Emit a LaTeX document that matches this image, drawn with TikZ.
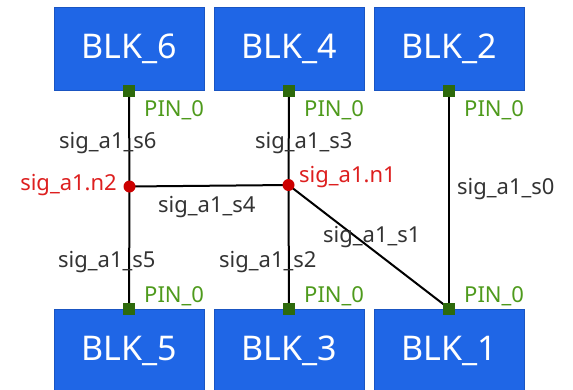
\documentclass[tikz,border=0pt]{standalone}
\usepackage{fontspec}
\setmainfont{Noto Sans}
\begin{document}
\begin{tikzpicture}[x=1pt,y=-1pt,
  blk/.style={draw=blkedge,line width=1pt,fill=blkfill,minimum width=150pt,minimum height=83pt,
    inner sep=0pt,font=\fontsize{34}{37}\selectfont,text=white},
  pin/.style={fill=pingreen,minimum size=12pt,inner sep=0pt},
  junc/.style={circle,fill=juncred,minimum size=12pt,inner sep=0pt},
  wire/.style={line width=2pt,black},
  pinlbl/.style={anchor=west,inner sep=0pt,text=pintext,font=\fontsize{22}{24}\selectfont},
  siglbl/.style={anchor=west,inner sep=0pt,text=sigtext,font=\fontsize{22}{24}\selectfont},
  netlbl/.style={inner sep=0pt,text=nettext,font=\fontsize{22}{24}\selectfont}]
\definecolor{blkfill}{HTML}{1F66E6}
\definecolor{blkedge}{HTML}{1A55C2}
\definecolor{pingreen}{HTML}{2D6A0C}
\definecolor{pintext}{HTML}{4E9A1C}
\definecolor{juncred}{HTML}{CC0000}
\definecolor{nettext}{HTML}{DD1F1F}
\definecolor{sigtext}{HTML}{333333}
\useasboundingbox (0,0) rectangle (573,389);
\clip (0,0) rectangle (573,389);

% blocks
\node[blk] (b6) at (129,48.5) {BLK\_6};
\node[blk] (b4) at (289,48.5) {BLK\_4};
\node[blk] (b2) at (449,48.5) {BLK\_2};
\node[blk] (b5) at (129,350.5) {BLK\_5};
\node[blk] (b3) at (289,350.5) {BLK\_3};
\node[blk] (b1) at (449,350.5) {BLK\_1};

% junctions
\coordinate (n2) at (129.5,186.5);
\coordinate (n1) at (288.5,185);

% pins
\node[pin] (p6) at (b6.south) {};
\node[pin] (p4) at (b4.south) {};
\node[pin] (p2) at (b2.south) {};
\node[pin] (p5) at (b5.north) {};
\node[pin] (p3) at (b3.north) {};
\node[pin] (p1) at (b1.north) {};

% wires
\draw[wire] (p6.center) -- (n2) -- (p5.center);
\draw[wire] (p4.center) -- (n1) -- (p3.center);
\draw[wire] (n2) -- (n1);
\draw[wire] (n1) -- (p1.center);
\draw[wire] (p2.center) -- (p1.center);

\node[pin] at (p6) {};
\node[pin] at (p4) {};
\node[pin] at (p2) {};
\node[pin] at (p5) {};
\node[pin] at (p3) {};
\node[pin] at (p1) {};
\node[junc] (j2) at (n2) {};
\node[junc] (j1) at (n1) {};

% pin labels
\node[pinlbl] (l6) at (144,110) {PIN\_0};
\node[pinlbl] (l4) at (304,110) {PIN\_0};
\node[pinlbl] (l2) at (464,110) {PIN\_0};
\node[pinlbl] (l5) at (144,296) {PIN\_0};
\node[pinlbl] (l3) at (304,296) {PIN\_0};
\node[pinlbl] (l1) at (464,296) {PIN\_0};

% net labels
\node[netlbl,anchor=east] (t2) at (117,185) {sig\_a1.n2};
\node[netlbl,anchor=west] (t1) at (299,177) {sig\_a1.n1};

% segment labels
\node[siglbl] (s6) at (59,143) {sig\_a1\_s6};
\node[siglbl] (s3) at (255,143) {sig\_a1\_s3};
\node[siglbl] (s0) at (457,189) {sig\_a1\_s0};
\node[siglbl] (s4) at (158,207) {sig\_a1\_s4};
\node[siglbl] (s1) at (323,237) {sig\_a1\_s1};
\node[siglbl] (s5) at (58,262) {sig\_a1\_s5};
\node[siglbl] (s2) at (219,262) {sig\_a1\_s2};
\end{tikzpicture}
\end{document}
